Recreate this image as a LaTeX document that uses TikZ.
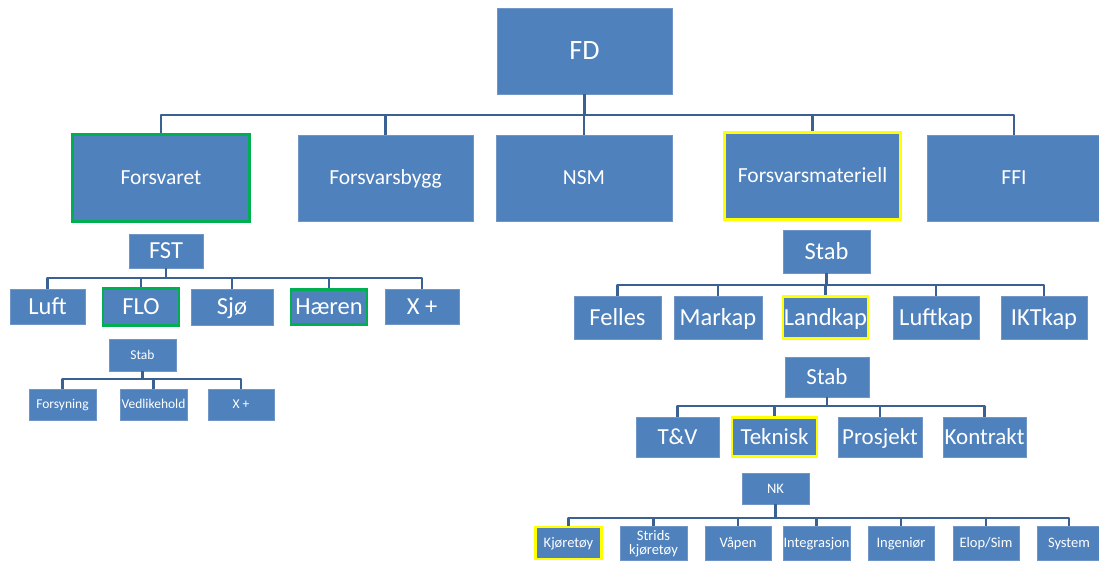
\documentclass[tikz,border=0pt]{standalone}
\usepackage{fontspec}
\setmainfont{Carlito}
\usepackage{tikz}
\usetikzlibrary{positioning,calc}
\definecolor{oblue}{HTML}{4F81BD}
\definecolor{oedge}{HTML}{7096C8}
\definecolor{oline}{HTML}{3A6191}
\definecolor{ogreen}{HTML}{00B050}
\definecolor{oyellow}{HTML}{FFFF00}
\tikzset{
  unit/.style={fill=oblue,draw=oedge,line width=0.6pt,text=white,inner sep=0pt,align=center},
  grn/.style={unit,draw=ogreen,line width=2.4pt},
  ylw/.style={unit,draw=oyellow,line width=2.6pt},
  bus/.style={draw=oline,line width=2.8pt,line join=round},
  fxl/.style={font=\fontsize{28}{30}\selectfont,text height=18pt,text depth=0pt},
  fl/.style={font=\fontsize{21.5}{24}\selectfont,text height=13.8pt,text depth=0pt},
  fm/.style={font=\fontsize{24.5}{27}\selectfont,text height=15.7pt,text depth=0pt},
  fmr/.style={font=\fontsize{23}{26}\selectfont,text height=14.7pt,text depth=0pt},
  fs/.style={font=\fontsize{13.5}{15}\selectfont,text height=8.7pt,text depth=0pt},
  fsr/.style={font=\fontsize{14.5}{14}\selectfont,text height=9.3pt,text depth=0pt},
}

\begin{document}
\begin{tikzpicture}[x=1pt,y=-1pt]
  \clip (0,0) rectangle (1099,561);
  \fill[white] (0,0) rectangle (1099,561);

  \node[unit,fxl,minimum width=175pt,minimum height=86pt] (fd) at (584.5,51) {FD};

  \node[grn,fl,minimum width=177pt,minimum height=87pt] (forsvaret) at (161,178) {Forsvaret};
  \node[unit,fl,minimum width=175pt,minimum height=86pt] (forsvarsbygg) at (385.5,178) {Forsvarsbygg};
  \node[unit,fl,minimum width=176pt,minimum height=86pt] (nsm) at (584,178) {NSM};
  \node[ylw,fl,minimum width=176pt,minimum height=87pt] (fmat) at (812.5,176) {Forsvarsmateriell};
  \node[unit,fl,minimum width=174pt,minimum height=86pt] (ffi) at (1014,178) {FFI};

  \coordinate (b0) at (0,115);
  \draw[bus] (fd.south) -- (fd.south |- b0);
  \draw[bus] (forsvaret.north) |- (ffi.north |- b0) -- (ffi.north);
  \foreach \n in {forsvarsbygg,nsm,fmat} \draw[bus] (\n.north |- b0) -- (\n.north);

  \node[unit,fm,minimum width=74pt,minimum height=34pt] (fst) at (166,251) {FST};
  \node[unit,fm,minimum width=75pt,minimum height=35pt] (luft) at (47.5,306.5) {Luft};
  \node[grn,fm,minimum width=76pt,minimum height=37pt] (flo) at (141,307) {FLO};
  \node[unit,fm,minimum width=82pt,minimum height=36pt] (sjo) at (232,307) {Sjø};
  \node[grn,fm,minimum width=76pt,minimum height=35pt] (haeren) at (329,307) {Hæren};
  \node[unit,fm,minimum width=74pt,minimum height=35pt] (xa) at (422,306.5) {X +};

  \coordinate (b1) at (0,278);
  \draw[bus] (fst.south) -- (fst.south |- b1);
  \draw[bus] (luft.north) |- (xa.north |- b1) -- (xa.north);
  \foreach \n in {flo,sjo,haeren} \draw[bus] (\n.north |- b1) -- (\n.north);

  \node[unit,fs,minimum width=67pt,minimum height=32pt] (staba) at (142.5,355) {Stab};
  \node[unit,fs,minimum width=67pt,minimum height=31pt] (forsyning) at (62.5,404.5) {Forsyning};
  \node[unit,fs,minimum width=67pt,minimum height=31pt] (vedlikehold) at (153.5,404.5) {Vedlikehold};
  \node[unit,fs,minimum width=66pt,minimum height=31pt] (xb) at (241,404.5) {X +};

  \coordinate (b2) at (0,379);
  \draw[bus] (staba.south) -- (staba.south |- b2);
  \draw[bus] (forsyning.north) |- (xb.north |- b2) -- (xb.north);
  \draw[bus] (vedlikehold.north |- b2) -- (vedlikehold.north);

  \node[unit,fm,minimum width=87pt,minimum height=43pt] (stabb) at (826.5,251.5) {Stab};
  \node[unit,fm,minimum width=87pt,minimum height=43pt] (felles) at (617.5,317.5) {Felles};
  \node[unit,fm,minimum width=88pt,minimum height=43pt] (markap) at (718,317.5) {Markap};
  \node[ylw,fm,minimum width=85pt,minimum height=42pt] (landkap) at (825.5,317.5) {Landkap};
  \node[unit,fm,minimum width=86pt,minimum height=43pt] (luftkap) at (936,317.5) {Luftkap};
  \node[unit,fm,minimum width=86pt,minimum height=43pt] (iktkap) at (1044,317.5) {IKTkap};

  \coordinate (b3) at (0,285);
  \draw[bus] (stabb.south) -- (stabb.south |- b3);
  \draw[bus] (felles.north) |- (iktkap.north |- b3) -- (iktkap.north);
  \foreach \n in {markap,landkap,luftkap} \draw[bus] (\n.north |- b3) -- (\n.north);

  \node[unit,fmr,minimum width=84pt,minimum height=40pt] (stabc) at (827,377) {Stab};
  \node[unit,fmr,minimum width=83pt,minimum height=40pt] (tv) at (677.5,437) {T\&V};
  \node[ylw,fmr,minimum width=85pt,minimum height=39pt] (teknisk) at (774.5,437) {Teknisk};
  \node[unit,fmr,minimum width=84pt,minimum height=40pt] (prosjekt) at (880,437) {Prosjekt};
  \node[unit,fmr,minimum width=83pt,minimum height=40pt] (kontrakt) at (984.5,437) {Kontrakt};

  \coordinate (b4) at (0,406);
  \draw[bus] (stabc.south) -- (stabc.south |- b4);
  \draw[bus] (tv.north) |- (kontrakt.north |- b4) -- (kontrakt.north);
  \foreach \n in {teknisk,prosjekt} \draw[bus] (\n.north |- b4) -- (\n.north);

  \node[unit,fsr,minimum width=67pt,minimum height=31pt] (nk) at (775.5,488.5) {NK};
  \node[ylw,fsr,minimum width=66pt,minimum height=32pt] (kjoretoy) at (568.5,543) {Kjøretøy};
  \node[unit,fsr,text height=23.3pt,minimum width=67pt,minimum height=34pt] (strids) at (653.5,543) {Strids\\kjøretøy};
  \node[unit,fsr,minimum width=66pt,minimum height=34pt] (vapen) at (738,543) {Våpen};
  \node[unit,fsr,minimum width=67pt,minimum height=34pt] (integrasjon) at (816.5,543) {Integrasjon};
  \node[unit,fsr,minimum width=66pt,minimum height=34pt] (ingenior) at (901,543) {Ingeniør};
  \node[unit,fsr,minimum width=66pt,minimum height=34pt] (elop) at (986,543) {Elop/Sim};
  \node[unit,fsr,minimum width=64pt,minimum height=34pt] (system) at (1069,543) {System};

  \coordinate (b5) at (0,518);
  \draw[bus] (nk.south) -- (nk.south |- b5);
  \draw[bus] (kjoretoy.north) |- (system.north |- b5) -- (system.north);
  \foreach \n in {strids,vapen,integrasjon,ingenior,elop} \draw[bus] (\n.north |- b5) -- (\n.north);
\end{tikzpicture}
\end{document}
